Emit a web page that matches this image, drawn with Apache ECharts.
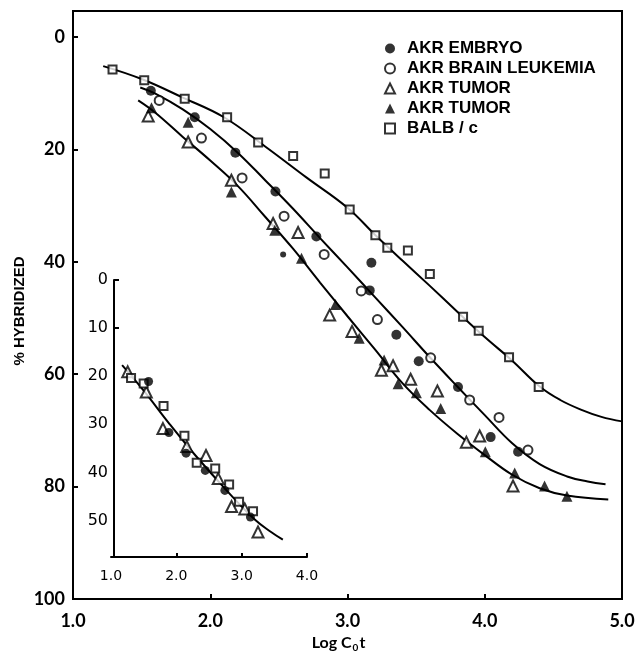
<!DOCTYPE html>
<html>
<head>
<meta charset="utf-8">
<script src="https://cdn.jsdelivr.net/npm/echarts@6/dist/echarts.min.js"></script>
<style>
html, body { margin: 0; padding: 0; background: #fff; }
#chart { width: 638px; height: 652px; }
</style>
</head>
<body>
<div id="chart"></div>
<script>
// main panel points [log Cot, % hybridized]
var embryo = [[1.567, 9.6], [1.887, 14.3], [2.183, 20.6], [2.475, 27.5], [2.773, 35.5], [3.174, 40.2], [3.162, 45.1], [3.356, 53.0], [3.519, 57.7], [3.805, 62.3], [4.043, 71.2], [4.243, 73.8]];
var embryoDot = [[2.531, 38.7]];
var brainLeukemia = [[1.628, 11.3], [1.936, 18.0], [2.232, 25.1], [2.538, 31.9], [2.83, 38.7], [3.10, 45.2], [3.218, 50.3], [3.606, 57.1], [3.89, 64.6], [4.104, 67.7], [4.315, 73.5]];
var tumorOpen = [[1.548, 14.1], [1.839, 18.7], [2.154, 25.5], [2.458, 33.2], [2.64, 34.8], [2.87, 49.5], [3.033, 52.4], [3.247, 59.3], [3.332, 58.5], [3.46, 60.9], [3.655, 63.0], [3.866, 72.1], [3.963, 71.0], [4.206, 79.9]];
var tumorFilled = [[1.572, 12.6], [1.839, 15.2], [2.154, 27.6], [2.47, 34.4], [2.665, 39.4], [2.912, 47.6], [3.085, 53.6], [3.267, 57.5], [3.369, 61.7], [3.502, 63.3], [3.679, 66.1], [4.004, 73.8], [4.218, 77.6], [4.436, 79.9], [4.599, 81.7]];
var balbc = [[1.288, 5.8], [1.519, 7.7], [1.814, 11.0], [2.123, 14.3], [2.349, 18.8], [2.604, 21.2], [2.834, 24.3], [3.016, 30.7], [3.203, 35.3], [3.29, 37.5], [3.44, 38.0], [3.60, 42.2], [3.842, 49.8], [3.956, 52.3], [4.177, 57.0], [4.393, 62.3]];

// fitted curves
var balbCurve = [[1.22, 5.2], [1.5, 7.5], [1.8, 10.8], [2.1, 14.3], [2.4, 19.5], [2.7, 25.0], [3.0, 30.4], [3.2, 35.2], [3.4, 39.8], [3.6, 44.3], [3.8, 48.9], [4.0, 53.4], [4.2, 57.6], [4.4, 62.2], [4.55, 64.6], [4.7, 66.3], [4.85, 67.6], [5.0, 68.4]];
var embryoCurve = [[1.49, 9.0], [1.6, 10.1], [1.8, 12.9], [2.0, 16.4], [2.2, 20.6], [2.4, 25.5], [2.6, 30.5], [2.8, 35.8], [3.0, 41.0], [3.2, 46.3], [3.4, 51.6], [3.6, 57.0], [3.8, 62.2], [4.0, 67.3], [4.2, 72.3], [4.4, 76.0], [4.6, 78.2], [4.75, 79.1], [4.88, 79.6]];
var tumorCurve = [[1.475, 11.3], [1.6, 13.5], [1.8, 17.8], [2.0, 22.0], [2.2, 26.5], [2.4, 32.0], [2.6, 37.6], [2.8, 43.7], [3.0, 49.7], [3.2, 55.6], [3.4, 61.6], [3.6, 66.4], [3.8, 70.6], [4.0, 74.4], [4.2, 77.9], [4.4, 80.3], [4.6, 81.6], [4.9, 82.3]];

// inset
var insetTumor = [[1.256, 19.1], [1.54, 23.3], [1.795, 30.9], [2.16, 34.6], [2.454, 36.5], [2.641, 41.3], [2.845, 47.1], [3.047, 47.6], [3.25, 52.4]];
var insetBalb = [[1.307, 20.4], [1.5, 21.5], [1.804, 26.2], [2.124, 32.4], [2.312, 38.0], [2.595, 39.2], [2.808, 42.5], [2.96, 46.1], [3.174, 48.1]];
var insetEmbryo = [[1.575, 21.1], [1.886, 31.7], [2.149, 36.0], [2.443, 39.6], [2.743, 43.75], [3.134, 49.3]];
var insetCurve = [[1.17, 17.7], [1.5, 23.0], [1.9, 30.0], [2.3, 36.6], [2.8, 44.2], [3.2, 49.8], [3.45, 52.4], [3.63, 54.0]];

var mainTicksX = [1, 2, 3, 4, 5];
var mainTicksY = [0, 20, 40, 60, 80, 100];
var insetTicksX = [1, 2, 3, 4];
var insetTicksY = [0, 10, 20, 30, 40, 50];

var chart = echarts.init(document.getElementById('chart'));

var openStyle = { color: '#fff', borderColor: '#000', borderWidth: 2 };
var fillStyle = { color: '#000', borderColor: '#000', borderWidth: 0 };
var curveStyle = { color: '#000', width: 2 };

function scatter(name, data, symbol, size, style, axis) {
  return {
    name: name,
    type: 'scatter',
    xAxisIndex: axis,
    yAxisIndex: axis,
    data: data,
    symbol: symbol,
    symbolSize: size,
    itemStyle: style,
    z: 5,
    silent: true
  };
}
function curve(name, data, axis) {
  return {
    name: name,
    type: 'line',
    xAxisIndex: axis,
    yAxisIndex: axis,
    data: data,
    smooth: 0.4,
    showSymbol: false,
    lineStyle: curveStyle,
    z: 2,
    silent: true
  };
}

var option = {
  backgroundColor: '#fff',
  animation: false,
  grid: [{
    left: 73, right: 16, top: 11, bottom: 53,
    show: true, borderColor: '#000', borderWidth: 2,
    outerBoundsMode: 'none'
  }, {
    left: 111, top: 280, width: 196, height: 277,
    outerBoundsMode: 'none'
  }],
  legend: {
    orient: 'vertical',
    left: 379,
    top: 35,
    itemWidth: 10,
    itemHeight: 10,
    itemGap: 3,
    selectedMode: false,
    data: ['AKR EMBRYO', 'AKR BRAIN LEUKEMIA', 'AKR TUMOR', 'AKR TUMOR ', 'BALB / c'],
    formatter: function (n) { return n.trim(); },
    textStyle: {
      fontFamily: 'Liberation Sans',
      fontWeight: 'bold',
      fontSize: 17,
      color: '#000',
      padding: [0, 0, 0, 7]
    }
  },
  xAxis: [{
    type: 'value', gridIndex: 0, min: 1, max: 5, position: 'bottom',
    name: 'Log C{s|0}t',
    nameLocation: 'middle',
    nameGap: 34,
    nameTextStyle: {
      fontFamily: 'Lato', fontWeight: 'bold', fontSize: 16, color: '#000',
      padding: [0, 18, 0, 0],
      rich: { s: { fontFamily: 'Lato', fontWeight: 'bold', fontSize: 10, color: '#000', padding: [9, 1, 0, 1] } }
    },
    axisLine: { onZero: false, lineStyle: { color: '#000', width: 2 } },
    axisTick: { inside: true, length: 5, lineStyle: { color: '#000', width: 2 }, customValues: [2, 3, 4] },
    axisLabel: {
      customValues: mainTicksX, margin: 13,
      formatter: function (v) { return v.toFixed(1); },
      fontFamily: 'Lato', fontWeight: 'bold', fontSize: 18, color: '#000'
    },
    splitLine: { show: false }
  }, {
    type: 'value', gridIndex: 1, min: 1, max: 4, position: 'bottom',
    axisLine: { onZero: false, lineStyle: { color: '#000', width: 2 } },
    axisTick: { inside: true, length: 4, lineStyle: { color: '#000', width: 2 }, customValues: [2, 3, 4] },
    axisLabel: {
      customValues: insetTicksX, margin: 12,
      formatter: function (v) { return v.toFixed(1); },
      fontFamily: 'DejaVu Sans', fontSize: 14, color: '#000'
    },
    splitLine: { show: false }
  }],
  yAxis: [{
    type: 'value', gridIndex: 0, min: -4.6, max: 100, inverse: true, position: 'left',
    name: '% HYBRIDIZED',
    nameLocation: 'middle',
    nameRotate: 90,
    nameGap: 46,
    nameMoveOverlap: false,
    nameTextStyle: {
      fontFamily: 'Liberation Sans', fontWeight: 'bold', fontSize: 15, color: '#000',
      padding: [0, 12, 0, 0]
    },
    axisLine: { onZero: false, lineStyle: { color: '#000', width: 2 } },
    axisTick: { inside: true, length: 5, lineStyle: { color: '#000', width: 2 }, customValues: [0, 20, 40, 60, 80] },
    axisLabel: {
      customValues: mainTicksY, margin: 8,
      fontFamily: 'Lato', fontWeight: 'bold', fontSize: 18, color: '#000'
    },
    splitLine: { show: false }
  }, {
    type: 'value', gridIndex: 1, min: 0, max: 57.6, inverse: true, position: 'left',
    offset: -3,
    axisLine: { onZero: false, lineStyle: { color: '#000', width: 2 } },
    axisTick: { inside: true, length: 5, lineStyle: { color: '#000', width: 2 }, customValues: [0, 10] },
    axisLabel: {
      customValues: insetTicksY, margin: 6,
      fontFamily: 'DejaVu Sans', fontSize: 16, color: '#000'
    },
    splitLine: { show: false }
  }],
  series: [
    curve('balbCurve', balbCurve, 0),
    curve('embryoCurve', embryoCurve, 0),
    curve('tumorCurve', tumorCurve, 0),
    scatter('AKR EMBRYO', embryo, 'circle', 10, fillStyle, 0),
    scatter('AKR EMBRYO', embryoDot, 'circle', 6, fillStyle, 0),
    scatter('AKR BRAIN LEUKEMIA', brainLeukemia, 'circle', 9, openStyle, 0),
    scatter('AKR TUMOR', tumorOpen, 'triangle', 11, openStyle, 0),
    scatter('AKR TUMOR ', tumorFilled, 'triangle', 11, fillStyle, 0),
    scatter('BALB / c', balbc, 'rect', 8, openStyle, 0),
    curve('insetCurve', insetCurve, 1),
    scatter('inset tumor', insetTumor, 'triangle', 11, openStyle, 1),
    scatter('inset balb', insetBalb, 'rect', 8, openStyle, 1),
    scatter('inset embryo', insetEmbryo, 'circle', 9, fillStyle, 1)
  ]
};

chart.setOption(option);
</script>
</body>
</html>
